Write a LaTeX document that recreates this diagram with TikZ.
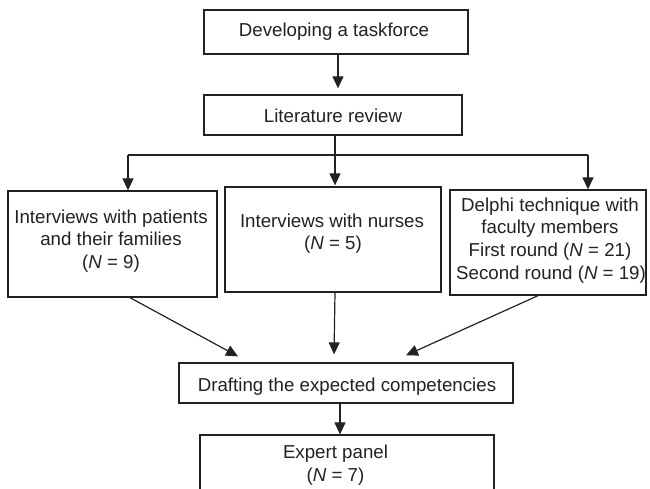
\documentclass[tikz,border=0pt]{standalone}
\usepackage{fontspec}
\setmainfont{Liberation Sans}
\usetikzlibrary{arrows.meta}
\definecolor{ink}{HTML}{222222}
\tikzset{
  box/.style={draw=ink, line width=1.3pt, inner sep=0pt, fill=white},
  txt/.style={text=ink, align=center, inner sep=0pt, anchor=base, font=\fontsize{18.7}{22.7}\selectfont},
  arr/.style={draw=ink, line width=1.2pt, -{Triangle[length=12pt,width=11pt]}},
  ln/.style={draw=ink, line width=1.2pt}
}
\begin{document}
\begin{tikzpicture}[x=1pt,y=-1pt]
\fill[white] (0,0) rectangle (650,488);
\useasboundingbox (0,0) rectangle (650,488);
\clip (0,0) rectangle (650,488);
% boxes
\node[box, minimum width=264pt, minimum height=44pt] (b1) at (336,32) {};
\node[box, minimum width=258pt, minimum height=40pt] (b2) at (333,115) {};
\node[box, minimum width=209pt, minimum height=106pt] (bl) at (112.5,244) {};
\node[box, minimum width=216pt, minimum height=105pt] (bm) at (333,239.5) {};
\node[box, minimum width=196pt, minimum height=105pt] (br) at (548,242.5) {};
\node[box, minimum width=334pt, minimum height=40pt] (dr) at (346,383) {};
\node[box, minimum width=294pt, minimum height=65pt] (ex) at (347,467.5) {};
% texts
\node[txt] (t1) at (334,36) {Developing a taskforce};
\node[txt] (t2) at (333,122.5) {Literature review};
\node[txt] (tl1) at (111,223) {Interviews with patients};
\node[txt] (tl2) at (111,245.7) {and their families};
\node[txt] (tl3) at (111,268.4) {(\textit{N} = 9)};
\node[txt] (tm1) at (332,227) {Interviews with nurses};
\node[txt] (tm2) at (333,249) {(\textit{N} = 5)};
\node[txt] (tr1) at (550,211) {Delphi technique with};
\node[txt] (tr2) at (550,233.7) {faculty members};
\node[txt] (tr3) at (550,256.4) {First round (\textit{N} = 21)};
\node[txt] (tr4) at (551,279.1) {Second round (\textit{N} = 19)};
\node[txt] (td) at (347,391.5) {Drafting the expected competencies};
\node[txt] (te1) at (335.5,458) {Expert panel};
\node[txt] (te2) at (335.5,481.5) {(\textit{N} = 7)};
% connectors
\draw[arr] ([xshift=2pt]b1.south) -- ([xshift=5pt,yshift=6pt]b2.north);
\coordinate (split) at (335,155);
\draw[ln] ([xshift=2pt]b2.south) -- (split);
\draw[arr] ([xshift=2pt]b2.south) -- ([yshift=1pt]bm.north -| split);
\draw[ln] ([xshift=15.5pt]bl.north |- split) -- ([xshift=40pt]br.north |- split);
\draw[arr] ([xshift=15.5pt]bl.north |- split) -- ([xshift=15.5pt]bl.north);
\draw[arr] ([xshift=40pt]br.north |- split) -- ([xshift=40pt]br.north);
\draw[arr] ([xshift=17.5pt]bl.south) -- ([xshift=-108pt,yshift=6pt]dr.north);
\draw[arr] ([xshift=2pt]bm.south) -- ([xshift=-12pt,yshift=8pt]dr.north);
\draw[arr] ([xshift=-10pt]br.south) -- ([xshift=60pt,yshift=7pt]dr.north);
\draw[arr] ([xshift=-6pt]dr.south) -- ([xshift=-7pt]ex.north);
\end{tikzpicture}
\end{document}
